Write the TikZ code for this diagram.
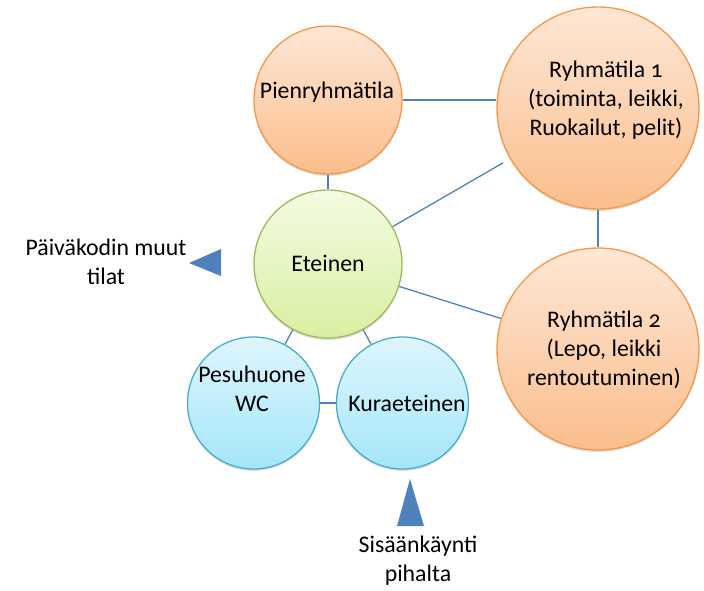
\documentclass[tikz,border=0pt]{standalone}
\usepackage{fontspec}
\setmainfont[Numbers=OldStyle]{Carlito}
\usepackage{tikz}
\usetikzlibrary{shadows}

\definecolor{orangeline}{HTML}{F79646}
\definecolor{orangetop}{HTML}{FEE7D6}
\definecolor{orangebot}{HTML}{FBBE8C}
\definecolor{greenline}{HTML}{9BBB59}
\definecolor{greentop}{HTML}{F4FBE2}
\definecolor{greenbot}{HTML}{D8EFA2}
\definecolor{blueline}{HTML}{4BACC6}
\definecolor{bluetop}{HTML}{DFF6FC}
\definecolor{bluebot}{HTML}{A4E6FA}
\definecolor{linkblue}{HTML}{4F81BD}

\begin{document}
\begin{tikzpicture}[x=1pt,y=-1pt,
	room/.style={shape=circle, inner sep=0pt, line width=1.3pt,
		drop shadow={opacity=0.25, shadow xshift=0pt, shadow yshift=-2pt}},
	orangeroom/.style={room, draw=orangeline, top color=orangetop, bottom color=orangebot},
	greenroom/.style={room, draw=greenline, top color=greentop, bottom color=greenbot},
	blueroom/.style={room, draw=blueline, top color=bluetop, bottom color=bluebot},
	roomtext/.style={align=center, inner sep=0pt, font=\fontsize{23.8}{29}\selectfont},
	link/.style={draw=linkblue, line width=1.3pt}]
	
	\useasboundingbox (0,0) rectangle (704,590);
	
	\node[orangeroom, minimum size=148pt] (pien) at (328,100) {};
	\node[orangeroom, minimum size=202pt] (r1)   at (598,108) {};
	\node[orangeroom, minimum size=202pt] (r2)   at (598,349) {};
	\node[greenroom,  minimum size=148pt] (et)   at (328,264) {};
	\node[blueroom,   minimum size=132pt] (pes)  at (253.5,403) {};
	\node[blueroom,   minimum size=132pt] (kura) at (402.5,403) {};
	
	\node[roomtext] (pientext) at (327,92)  {Pienryhmätila};
	\node[roomtext] (r1text)   at (606,100) {Ryhmätila 1\\(toiminta, leikki,\\Ruokailut, pelit)};
	\node[roomtext] (r2text)   at (604,350) {Ryhmätila 2\\(Lepo, leikki\\rentoutuminen)};
	\node[roomtext] (ettext)   at (328,263) {Eteinen};
	\node[roomtext] (pestext)  at (252,389) {Pesuhuone\\WC};
	\node[roomtext] (kuratext) at (407,403) {Kuraeteinen};
	
	\node[roomtext] (muut)   at (106,262) {Päiväkodin muut\\tilat};
	\node[roomtext] (sisaan) at (418,561) {Sisäänkäynti\\pihalta};
	
	\draw[link] (pien.east) -- (pien.east -| r1.west);
	\draw[link] (pien) -- (et);
	\draw[link, shorten >=8pt] (et) -- (r1);
	\draw[link] (et) -- (r2);
	\draw[link] (r1) -- (r2);
	\draw[link] (et) -- (pes);
	\draw[link] (et) -- (kura);
	\draw[link] (pes) -- (kura);
	
	\fill[linkblue] (189,263) -- (221,249) -- (221,276) -- cycle;
	\fill[linkblue] (410,479) -- (424,526) -- (397,526) -- cycle;
	
\end{tikzpicture}
\end{document}
